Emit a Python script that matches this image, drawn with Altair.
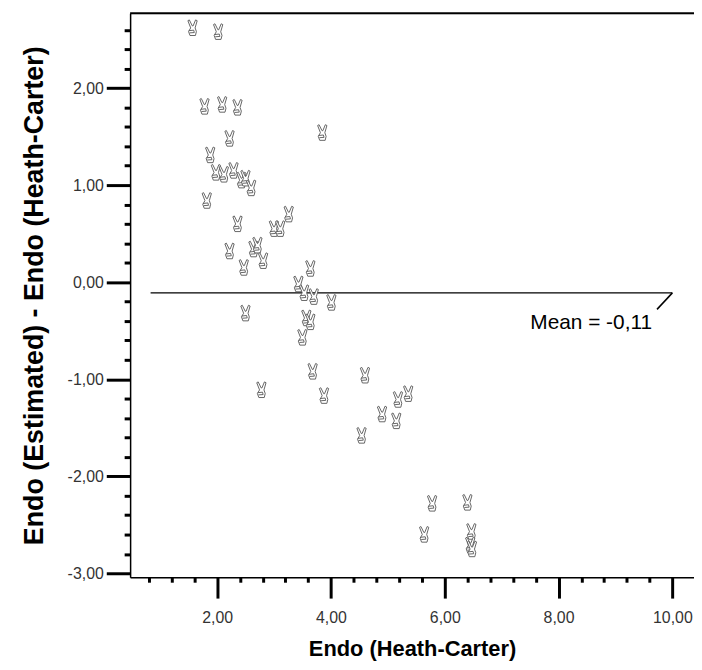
import altair as alt
import pandas as pd

# Endo (Heath-Carter) values
endo_hc = [1.57, 2.02, 1.78, 2.09, 2.36, 3.85, 2.22, 1.88, 1.98, 2.12,
           2.29, 2.43, 2.50, 2.60, 1.82, 3.26, 2.36, 3.00, 3.11, 2.22,
           2.64, 2.71, 2.81, 2.47, 3.64, 3.43, 3.53, 3.70, 4.01, 2.50,
           3.57, 3.64, 3.50, 3.68, 4.60, 2.78, 3.88, 4.90, 5.15, 5.18,
           5.36, 4.54, 5.78, 6.40, 5.64, 6.47, 6.45, 6.48]
# Endo (Estimated) - Endo (Heath-Carter)
endo_diff = [2.62, 2.58, 1.81, 1.83, 1.80, 1.54, 1.48, 1.31, 1.13, 1.11,
             1.15, 1.05, 1.07, 0.97, 0.84, 0.70, 0.60, 0.55, 0.55, 0.32,
             0.34, 0.38, 0.22, 0.15, 0.14, -0.02, -0.11, -0.15, -0.21, -0.32,
             -0.37, -0.41, -0.57, -0.92, -0.96, -1.11, -1.17, -1.36, -1.43, -1.21,
             -1.15, -1.58, -2.28, -2.27, -2.60, -2.57, -2.71, -2.75]

mean_value = -0.11
mean_line_x = [0.83, 10.0]
mean_pointer_x = [10.0, 9.73]
mean_pointer_y = [-0.11, -0.28]
mean_label = "Mean = -0,11"

x_ticks = [round(0.8 + 0.4 * i, 1) for i in range(24)]
y_ticks = [round(-3.0 + 0.2 * i, 1) for i in range(29)]

pts = pd.DataFrame({"x": endo_hc, "y": endo_diff})
mean_df = pd.DataFrame({"x": [mean_line_x[0]], "x2": [mean_line_x[1]], "y": [mean_value]})
ptr_df = pd.DataFrame({"x": [mean_pointer_x[0]], "x2": [mean_pointer_x[1]],
                       "y": [mean_pointer_y[0]], "y2": [mean_pointer_y[1]]})
lab_df = pd.DataFrame({"x": [mean_pointer_x[1]], "y": [mean_pointer_y[1]], "t": [mean_label]})

xs = alt.Scale(domain=[0.47, 10.38], nice=False, zero=False)
ys = alt.Scale(domain=[-3.04, 2.77], nice=False, zero=False)

x_major = "abs(datum.value/2 - round(datum.value/2)) < 0.001"
y_major = "abs(datum.value - round(datum.value)) < 0.001"

x_axis = alt.Axis(
    values=x_ticks, tickCount=100, grid=False, title="Endo (Heath-Carter)",
    domainColor="black", domainWidth=1.5,
    tickColor="black", tickWidth=3,
    tickSize={"condition": {"test": x_major, "value": 21}, "value": 5},
    labelExpr=f"{x_major} ? replace(format(datum.value, '.2f'), '.', ',') : ''",
    labelFont="Liberation Sans", labelFontSize=16, labelColor="#333333",
    labelPadding=12, labelOverlap=False, labelFlush=False,
    titleFont="Liberation Sans", titleFontSize=22, titleFontWeight="bold",
    titleColor="black", titlePadding=13,
)
y_axis = alt.Axis(
    values=y_ticks, tickCount=100, grid=False, title="Endo (Estimated) - Endo (Heath-Carter)",
    domainColor="black", domainWidth=1.5,
    tickColor="black", tickWidth=3,
    tickSize={"condition": {"test": y_major, "value": 24}, "value": 6},
    labelExpr=(f"{y_major} ? (datum.value < -0.001 ? '-' : '') + "
               "replace(format(abs(datum.value), '.2f'), '.', ',') : ''"),
    labelFont="Liberation Sans", labelFontSize=16, labelColor="#333333",
    labelPadding=3, labelOverlap=False, labelFlush=False,
    titleFont="Liberation Sans", titleFontSize=27, titleFontWeight="bold",
    titleColor="black", titlePadding=19,
)

X = alt.X("x:Q", scale=xs, axis=x_axis)
Y = alt.Y("y:Q", scale=ys, axis=y_axis)

# victory-hand marker outline (unit box)
hand = ("M -0.25 0 L -0.6 -0.9 L -0.42 -1 L -0.05 -0.25 L 0.05 -0.25 L 0.36 -1 "
        "L 0.56 -0.9 L 0.3 0 L 0.46 0.45 L 0.34 0.95 L -0.34 0.95 L -0.52 0.45 Z "
        "M -0.48 0.35 L 0.12 0.28 M -0.38 0.62 L 0.2 0.58 M 0.12 0.28 L 0.2 0.58")

points = alt.Chart(pts).mark_point(
    shape=hand, size=260, filled=False, fill="white", fillOpacity=1,
    stroke="#555555", strokeWidth=0.9, opacity=1
).encode(x=X, y=Y)

mean_rule = alt.Chart(mean_df).mark_rule(color="black", strokeWidth=1.5).encode(
    x=X, x2="x2:Q", y=Y)

ptr_rule = alt.Chart(ptr_df).mark_rule(color="black", strokeWidth=1.5).encode(
    x=X, x2="x2:Q", y=Y, y2="y2:Q")

label = alt.Chart(lab_df).mark_text(
    font="Liberation Sans", fontSize=21, color="black", align="right",
    baseline="alphabetic", dx=-5, dy=20
).encode(x=X, y=Y, text="t:N")

top_border = alt.Chart(pd.DataFrame({"a": [0]})).mark_rule(color="black", strokeWidth=2).encode(
    y=alt.value(0), x=alt.value(0), x2=alt.value(568))

chart = alt.layer(mean_rule, ptr_rule, points, label, top_border).properties(
    width=568, height=568,
    autosize=alt.AutoSizeParams(type="none"),
    padding={"left": 123, "top": 3, "right": 0, "bottom": 85},
).configure_view(stroke="black", strokeWidth=1).configure(background="white")

chart.save("out.html", embed_options={"renderer": "svg", "actions": False})
